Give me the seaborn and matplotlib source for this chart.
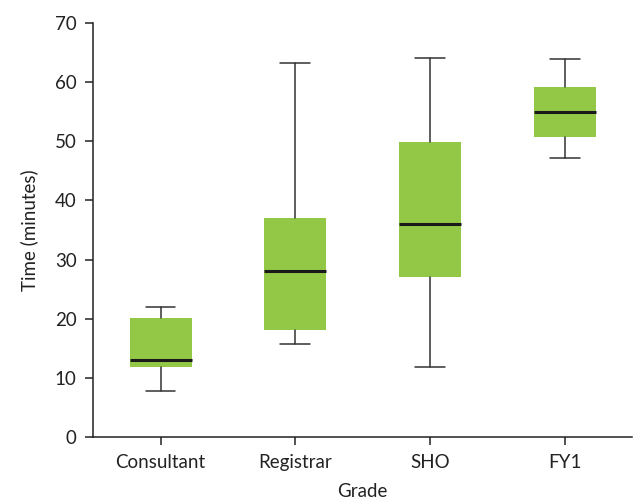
import matplotlib
matplotlib.use("Agg")
import matplotlib.pyplot as plt
import seaborn as sns

# Box statistics (minutes)
grades = ['Consultant', 'Registrar', 'SHO', 'FY1']
whisker_low = [7.8, 15.7, 11.8, 47.1]
q1 = [11.8, 18.0, 27.0, 50.8]
median = [13.0, 28.0, 36.0, 55.0]
q3 = [20.1, 37.1, 49.9, 59.2]
whisker_high = [22.0, 63.2, 64.1, 64.0]

sns.set_style('ticks')
plt.rcParams['font.family'] = ['Lato', 'DejaVu Sans']

fig = plt.figure(figsize=(6.38, 5.01), dpi=100)
ax = fig.add_axes([0.146, 0.128, 0.845, 0.826])

stats = []
for i in range(len(grades)):
    stats.append({'label': grades[i], 'whislo': whisker_low[i], 'q1': q1[i],
                  'med': median[i], 'q3': q3[i], 'whishi': whisker_high[i],
                  'fliers': []})

ax.bxp(stats, positions=range(len(grades)), widths=0.46, patch_artist=True,
       showfliers=False, capwidths=0.22,
       boxprops=dict(facecolor='#92c846', edgecolor='none'),
       medianprops=dict(color='#1a1a1a', linewidth=2.2),
       whiskerprops=dict(color='#333333', linewidth=1.1),
       capprops=dict(color='#333333', linewidth=1.1))

ax.set_xlim(-0.5, 3.5)
ax.set_ylim(0, 70)
ax.set_yticks(range(0, 71, 10))
ax.set_xticks(range(len(grades)))
ax.set_xticklabels(grades)
ax.set_xlabel('Grade', fontsize=13.5, color='#222222', labelpad=9)
ax.set_ylabel('Time (minutes)', fontsize=13.5, color='#222222', labelpad=12)
ax.tick_params(labelsize=13.5, colors='#222222', length=6, width=1.1, pad=6)
for s in ['left', 'bottom']:
    ax.spines[s].set_color('#222222')
    ax.spines[s].set_linewidth(1.1)
sns.despine(ax=ax)

fig.savefig('out.png', dpi=100)
